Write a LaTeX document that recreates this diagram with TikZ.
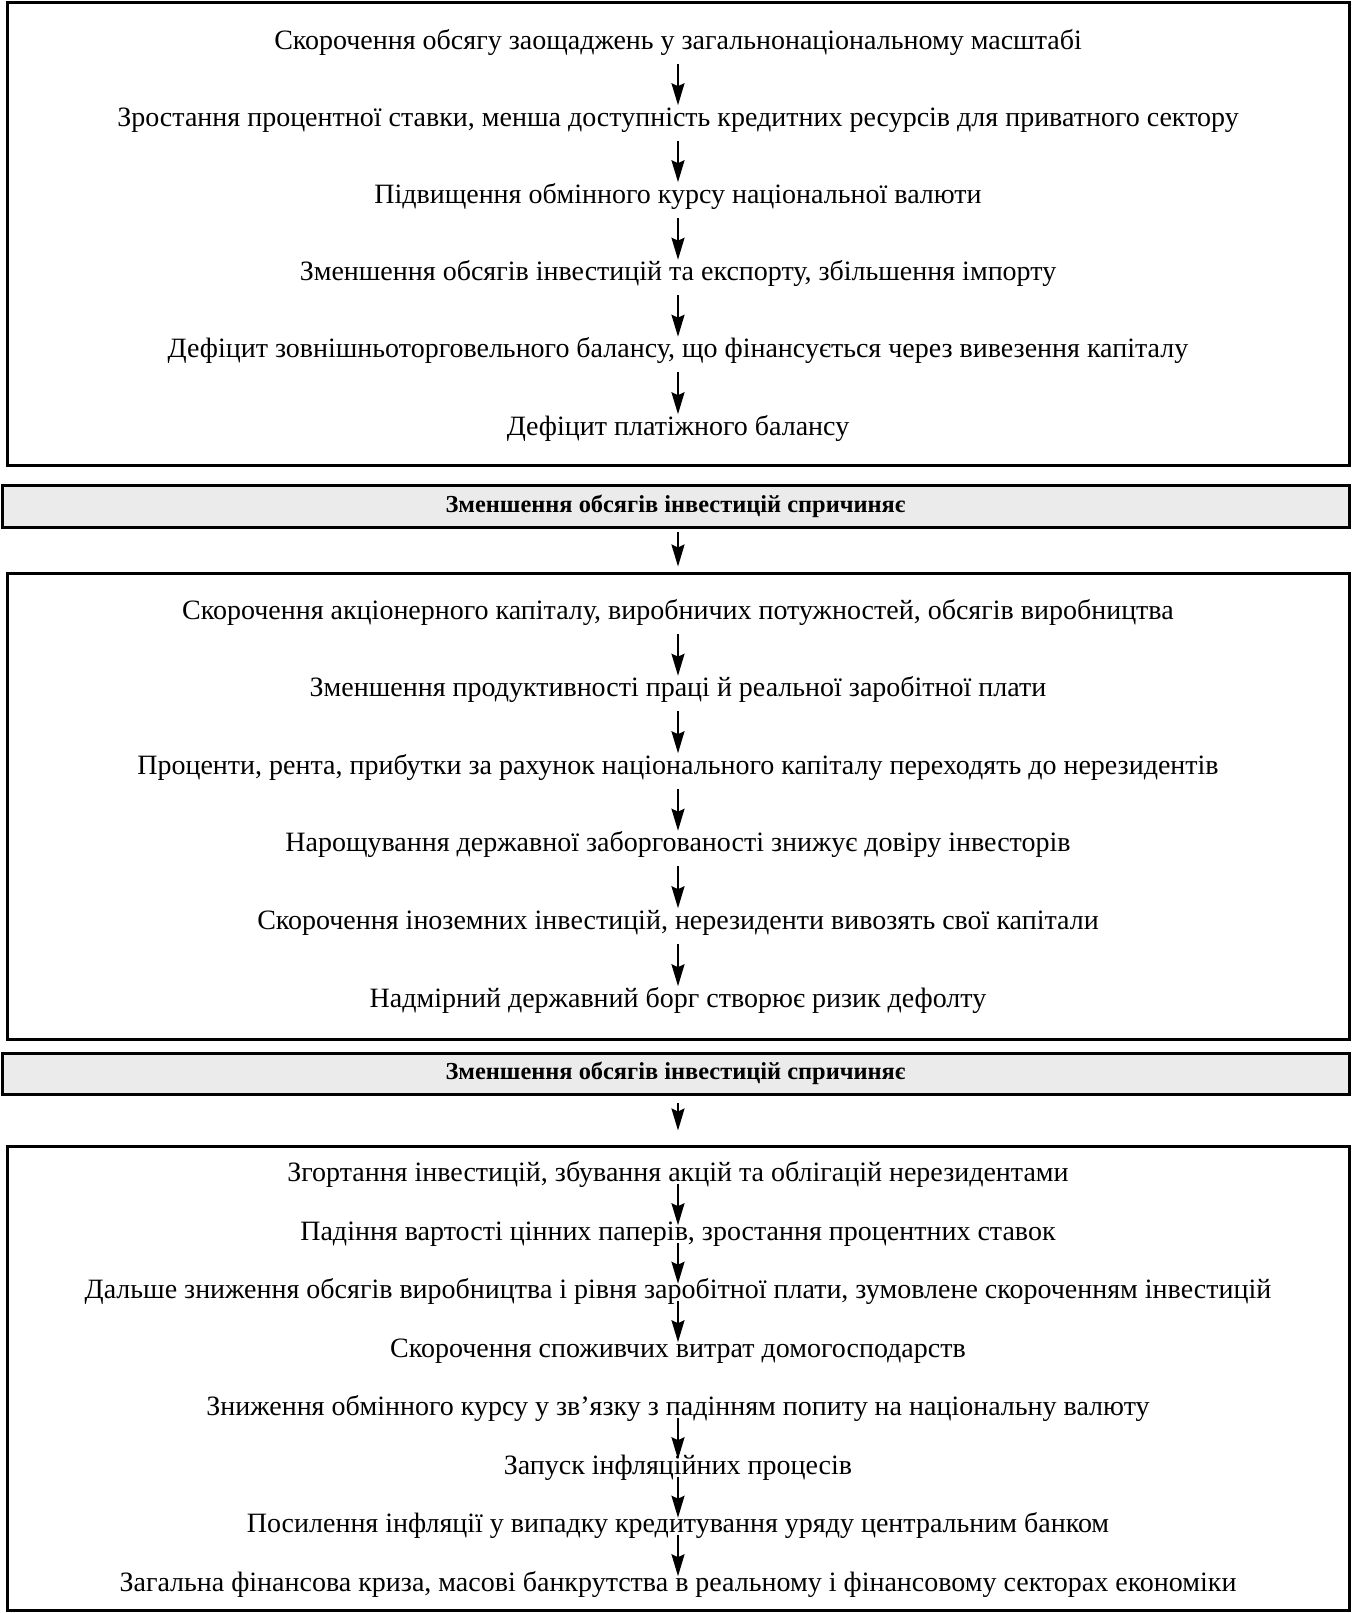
\documentclass[tikz,border=0pt]{standalone}
\usepackage{fontspec}
\setmainfont{Liberation Serif}
\usetikzlibrary{arrows.meta}
\definecolor{headgrey}{RGB}{235,235,235}
\begin{document}
\begin{tikzpicture}[x=0.5pt,y=-0.5pt,
    line/.style={anchor=base, inner sep=0pt, text height=0.72em, text depth=0.22em,
      font=\fontsize{14}{16}\selectfont},
    frame/.style={draw, line width=1.5pt, minimum width=671pt, inner sep=0pt},
    header/.style={draw, line width=1.5pt, fill=headgrey, minimum width=673.5pt,
      minimum height=21pt, inner sep=0pt, font=\fontsize{12.2}{14}\selectfont\bfseries},
    arr/.style={-{Stealth[length=11pt,width=6.5pt,inset=1.5pt]}, line width=1.1pt,
      shorten <=4.9pt, shorten >=3pt},
    arrtight/.style={arr, shorten <=-1pt, shorten >=0pt}]

    % Fix the page size
    \useasboundingbox (0,0) rectangle (1352,1613);

    % Draw the three frames
    \node[frame, minimum height=231.5pt] (box1) at (678,233.5) {};
    \node[frame, minimum height=233pt] (box2) at (678,806) {};
    \node[frame, minimum height=232pt] (box3) at (678.5,1378) {};

    % Add the grey headers
    \node[header] (h1) at (675.5,506) {Зменшення обсягів інвестицій спричиняє};
    \node[header, minimum height=20.5pt] (h2) at (675.5,1073.5) {Зменшення обсягів інвестицій спричиняє};

    % First frame
    \node[line] (a1) at (678,49) {Скорочення обсягу заощаджень у загальнонаціональному масштабі};
    \node[line] (a2) at (678,126) {Зростання процентної ставки, менша доступність кредитних ресурсів для приватного сектору};
    \node[line] (a3) at (678,203) {Підвищення обмінного курсу національної валюти};
    \node[line] (a4) at (678,280.5) {Зменшення обсягів інвестицій та експорту, збільшення імпорту};
    \node[line] (a5) at (678,357.5) {Дефіцит зовнішньоторговельного балансу, що фінансується через вивезення капіталу};
    \node[line] (a6) at (678,435) {Дефіцит платіжного балансу};

    % Second frame
    \node[line] (b1) at (678,619) {Скорочення акціонерного капіталу, виробничих потужностей, обсягів виробництва};
    \node[line] (b2) at (678,696.5) {Зменшення продуктивності праці й реальної заробітної плати};
    \node[line] (b3) at (678,774) {Проценти, рента, прибутки за рахунок національного капіталу переходять до нерезидентів};
    \node[line] (b4) at (678,851.5) {Нарощування державної заборгованості знижує довіру інвесторів};
    \node[line] (b5) at (678,929) {Скорочення іноземних інвестицій, нерезиденти вивозять свої капітали};
    \node[line] (b6) at (678,1007) {Надмірний державний борг створює ризик дефолту};

    % Third frame
    \node[line] (c1) at (678,1181) {Згортання інвестицій, збування акцій та облігацій нерезидентами};
    \node[line] (c2) at (678,1240) {Падіння вартості цінних паперів, зростання процентних ставок};
    \node[line] (c3) at (678,1298.5) {Дальше зниження обсягів виробництва і рівня заробітної плати, зумовлене скороченням інвестицій};
    \node[line] (c4) at (678,1357) {Скорочення споживчих витрат домогосподарств};
    \node[line] (c5) at (678,1415.5) {Зниження обмінного курсу у зв’язку з падінням попиту на національну валюту};
    \node[line] (c6) at (678,1474) {Запуск інфляційних процесів};
    \node[line] (c7) at (678,1532.5) {Посилення інфляції у випадку кредитування уряду центральним банком};
    \node[line] (c8) at (678,1591) {Загальна фінансова криза, масові банкрутства в реальному і фінансовому секторах економіки};

    % Draw the arrows
    \foreach \i/\j in {1/2,2/3,3/4,4/5,5/6} {
        \draw[arr] (a\i) -- (a\j);
        \draw[arr] (b\i) -- (b\j);
    }
    \foreach \i/\j in {1/2,2/3,3/4,5/6,6/7,7/8} {
        \draw[arrtight] (c\i) -- (c\j);
    }
    \draw[arr, shorten <=1.5pt, shorten >=2.5pt] (h1.south -| a1) -- (box2.north -| a1);
    \draw[arr, shorten <=3.5pt, shorten >=7pt] (h2.south -| a1) -- (box3.north -| a1);
\end{tikzpicture}
\end{document}
